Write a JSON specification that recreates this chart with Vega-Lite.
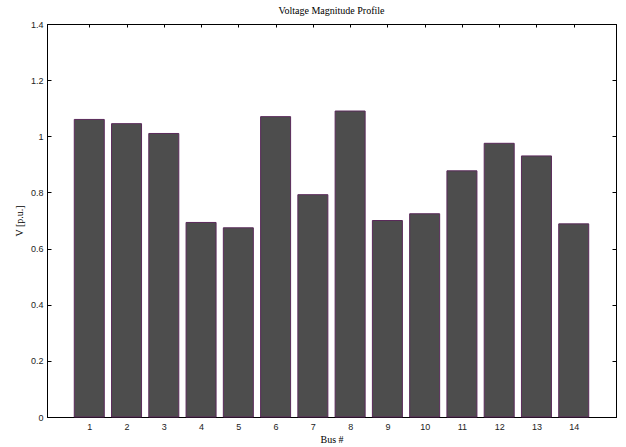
{
  "$schema": "https://vega.github.io/schema/vega-lite/v6.json",
  "width": 569,
  "height": 393,
  "autosize": "none",
  "padding": {"left": 47, "top": 24, "right": 10, "bottom": 30},
  "background": "white",
  "title": {"text": "Voltage Magnitude Profile", "font": "Liberation Serif", "fontSize": 10, "fontWeight": "normal", "color": "black", "offset": 4, "anchor": "middle"},
  "config": {
    "view": {"stroke": "black", "strokeWidth": 1},
    "axis": {"grid": false, "domainColor": "black", "tickColor": "black", "labelFont": "Liberation Sans", "labelFontSize": 9, "labelColor": "#222", "titleFont": "Liberation Serif", "titleFontSize": 10, "titleFontWeight": "normal", "titleColor": "black"}
  },
  "data": {"values": [
    {"bus": 1, "v": 1.06},
    {"bus": 2, "v": 1.045},
    {"bus": 3, "v": 1.01},
    {"bus": 4, "v": 0.693},
    {"bus": 5, "v": 0.674},
    {"bus": 6, "v": 1.07},
    {"bus": 7, "v": 0.792},
    {"bus": 8, "v": 1.09},
    {"bus": 9, "v": 0.70},
    {"bus": 10, "v": 0.724},
    {"bus": 11, "v": 0.877},
    {"bus": 12, "v": 0.975},
    {"bus": 13, "v": 0.93},
    {"bus": 14, "v": 0.688}
  ]},
  "layer": [
    {
      "mark": {"type": "bar", "width": 30, "fill": "#4d4d4d", "stroke": "#5a2a5a", "strokeWidth": 1},
      "encoding": {
        "x": {"field": "bus", "type": "quantitative", "scale": {"domain": [0, 15], "nice": false, "zero": false},
          "axis": {"orient": "bottom", "values": [1,2,3,4,5,6,7,8,9,10,11,12,13,14], "title": "Bus #", "tickSize": 0, "labelPadding": 5, "titlePadding": 3}},
        "y": {"field": "v", "type": "quantitative", "scale": {"domain": [0, 1.4], "nice": false},
          "axis": {"orient": "left", "values": [0, 0.2, 0.4, 0.6, 0.8, 1, 1.2, 1.4], "format": "~g", "title": "V [p.u.]", "tickSize": -4, "labelPadding": 8, "titlePadding": 6}}
      }
    },
    {
      "mark": {"type": "bar", "width": 30, "opacity": 0},
      "encoding": {
        "x": {"field": "bus", "type": "quantitative", "scale": {"domain": [0, 15], "nice": false, "zero": false},
          "axis": {"orient": "top", "values": [1,2,3,4,5,6,7,8,9,10,11,12,13,14], "labels": false, "title": null, "tickSize": -3}},
        "y": {"field": "v", "type": "quantitative", "scale": {"domain": [0, 1.4], "nice": false},
          "axis": {"orient": "right", "values": [0, 0.2, 0.4, 0.6, 0.8, 1, 1.2, 1.4], "labels": false, "title": null, "tickSize": -4}}
      }
    }
  ],
  "resolve": {"axis": {"x": "independent", "y": "independent"}}
}
